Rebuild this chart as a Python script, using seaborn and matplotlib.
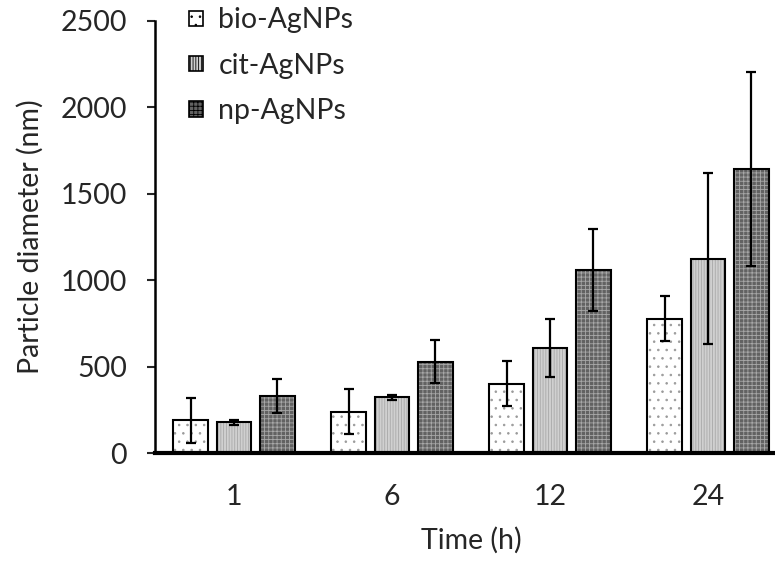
import numpy as np
import pandas as pd
import seaborn as sns
import matplotlib.pyplot as plt
from matplotlib.patches import Rectangle, Patch

# --- data ---
times = ['1', '6', '12', '24']
samples = ['bio-AgNPs', 'cit-AgNPs', 'np-AgNPs']
bio_mean = [190, 240, 403, 779]
bio_err = [132, 131, 130, 132]
cit_mean = [180, 323, 609, 1123]
cit_err = [15, 15, 166, 494]
np_mean = [330, 530, 1061, 1644]
np_err = [98, 125, 237, 559]

faces = ['#ffffff', '#d0d0d0', '#626262']
hatch_cols = ['#9a9a9a', '#a8a8a8', '#a8a8a8']
hatches = ['..', '||||||', '++++']

sns.set_style('white')
plt.rcParams['font.family'] = ['Lato', 'DejaVu Sans']
plt.rcParams['hatch.linewidth'] = 0.6

df = pd.DataFrame({
    'Time': times * 3,
    'Sample': np.repeat(samples, len(times)),
    'Diameter': bio_mean + cit_mean + np_mean,
    'Err': bio_err + cit_err + np_err,
})

fig = plt.figure(figsize=(7.75, 5.62), dpi=100)
ax = fig.add_axes([0.2, 0.1934, 0.8155, 0.7698])

sns.barplot(data=df, x='Time', y='Diameter', hue='Sample', order=times,
            hue_order=samples, errorbar=None, width=0.825, gap=0.2,
            legend=False, ax=ax)

errs = [bio_err, cit_err, np_err]
bar_conts = list(ax.containers)
for i, cont in enumerate(bar_conts):
    for j, p in enumerate(cont.patches):
        p.set_facecolor(faces[i])
        p.set_edgecolor(hatch_cols[i])
        p.set_hatch(hatches[i])
        p.set_linewidth(0)
        ax.add_patch(Rectangle(p.get_xy(), p.get_width(), p.get_height(),
                               fill=False, ec='black', lw=1.5, zorder=3))
        cx = p.get_x() + p.get_width() / 2
        ax.errorbar(cx, p.get_height(), yerr=errs[i][j], fmt='none',
                    ecolor='black', elinewidth=1.6, capsize=3.5,
                    capthick=1.6, zorder=4)

fs = 20.5
ax.set_ylim(0, 2500)
ax.set_yticks(range(0, 2501, 500))
ax.set_xlim(-0.5, 3.5)
ax.set_xlabel('Time (h)', fontsize=fs, labelpad=12)
ax.set_ylabel('Particle diameter (nm)', fontsize=fs, labelpad=12)
ax.tick_params(axis='y', labelsize=fs, length=6, width=1.5, direction='out',
               left=True, pad=14)
ax.tick_params(axis='x', labelsize=fs, length=0, pad=22)

sns.despine(ax=ax)
ax.spines['left'].set_linewidth(1.8)
ax.spines['bottom'].set_linewidth(3)
ax.spines['left'].set_color('black')
ax.spines['bottom'].set_color('black')

handles = [Patch(facecolor=faces[i], edgecolor='black', hatch=hatches[i],
                 linewidth=1.2) for i in range(3)]
ax.legend(handles, samples, loc='upper left', bbox_to_anchor=(0.035, 1.057),
          borderaxespad=0, frameon=False, fontsize=fs, handlelength=0.5,
          handleheight=0.45, handletextpad=0.55, labelspacing=0.68)

fig.savefig('out.png', dpi=100)
